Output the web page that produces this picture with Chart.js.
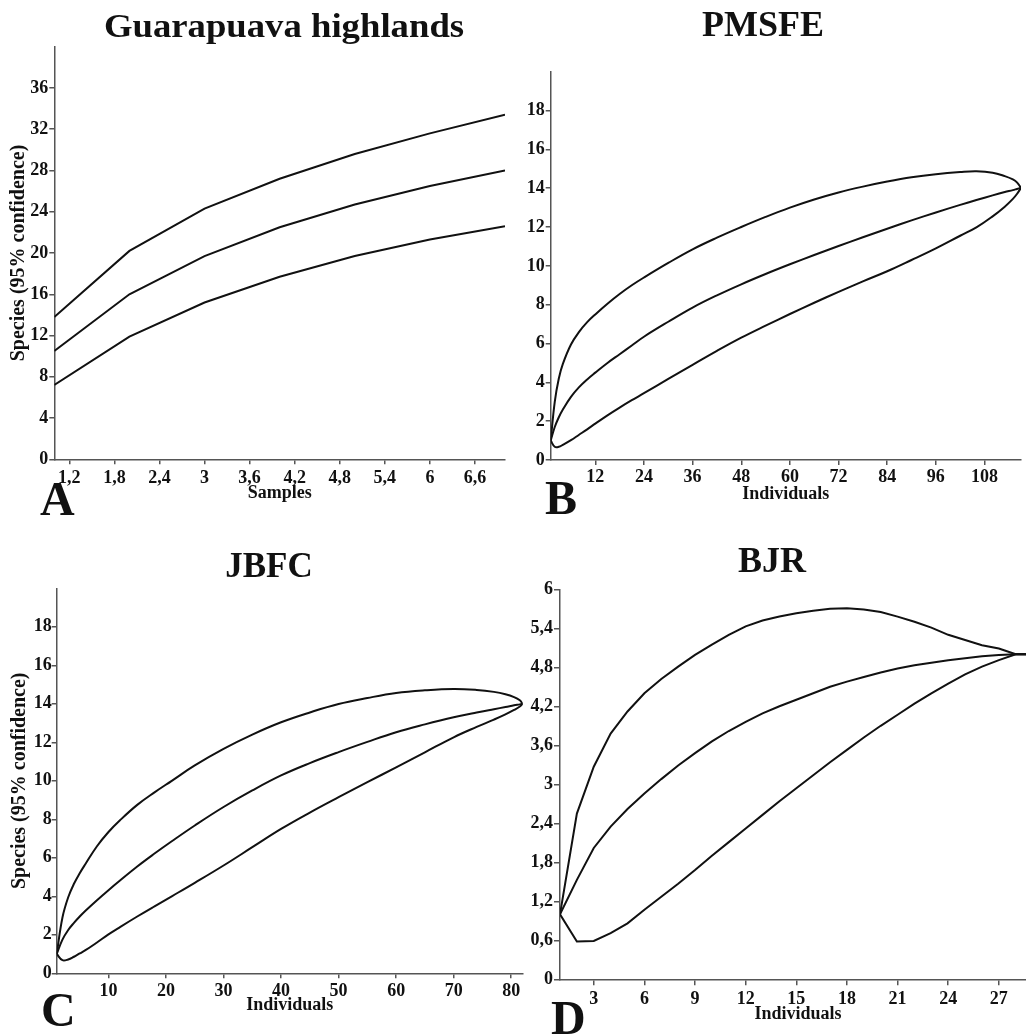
<!DOCTYPE html>
<html>
<head>
<meta charset="utf-8">
<script src="https://cdn.jsdelivr.net/npm/chart.js@4.4.1/dist/chart.umd.min.js"></script>
<style>
html, body { margin: 0; padding: 0; background: #fff; overflow: hidden; }
body { width: 1026px; height: 1034px; position: relative; }
canvas { position: absolute; }
.ttl, .lbl { position: absolute; font-family: 'Liberation Serif', 'Times New Roman', serif; font-weight: bold; color: #111; line-height: 1; white-space: nowrap; }
.ttl { font-size: 36px; transform: translateX(-50%); }
.lbl { font-size: 48px; }
</style>
</head>
<body>
<canvas id="chartA" width="513" height="517" style="left:0;top:0"></canvas>
<canvas id="chartB" width="513" height="517" style="left:513px;top:0"></canvas>
<canvas id="chartC" width="530" height="517" style="left:0;top:517px"></canvas>
<canvas id="chartD" width="519" height="517" style="left:524px;top:517px;background:#fff"></canvas>

<div class="ttl" style="left:284px;top:8.5px;font-size:34px;transform:translateX(-50%) scaleX(1.08)">Guarapuava highlands</div>
<div class="ttl" style="left:763px;top:5.9px">PMSFE</div>
<div class="ttl" style="left:269px;top:547.7px;font-size:35px">JBFC</div>
<div class="ttl" style="left:772px;top:541.9px">BJR</div>
<div class="lbl" style="left:40px;top:474.8px">A</div>
<div class="lbl" style="left:545px;top:473.8px">B</div>
<div class="lbl" style="left:41px;top:985.8px">C</div>
<div class="lbl" style="left:551px;top:993.8px">D</div>

<script>
// A - Guarapuava highlands (samples)
const samplesA = [1, 2, 3, 4, 5, 6, 7];
const upperA = [13.8, 20.2, 24.3, 27.2, 29.6, 31.6, 33.4];
const meanA  = [10.5, 16.0, 19.7, 22.5, 24.7, 26.5, 28.0];
const lowerA = [7.2, 11.9, 15.2, 17.7, 19.7, 21.3, 22.6];
const xTicksA = [1.2, 1.8, 2.4, 3, 3.6, 4.2, 4.8, 5.4, 6, 6.6];
const yTicksA = [0, 4, 8, 12, 16, 20, 24, 28, 32, 36];

// B - PMSFE (individuals)
const indB = [1, 2, 3, 4, 6, 8, 10, 12, 15, 18, 21, 24, 30, 36, 42, 48, 54, 60, 66, 72, 78, 84, 90, 96, 102, 106, 110, 113, 115, 116, 117];
const upperB = [1.0, 3.0, 4.2, 4.95, 5.95, 6.6, 7.1, 7.5, 8.05, 8.55, 9.0, 9.4, 10.15, 10.85, 11.45, 12.0, 12.52, 13.0, 13.42, 13.78, 14.08, 14.34, 14.56, 14.72, 14.83, 14.87, 14.8, 14.62, 14.45, 14.3, 14.02];
const meanB  = [1.0, 1.7, 2.2, 2.6, 3.25, 3.75, 4.15, 4.5, 5.0, 5.45, 5.9, 6.35, 7.12, 7.85, 8.48, 9.05, 9.58, 10.08, 10.56, 11.02, 11.47, 11.91, 12.34, 12.75, 13.14, 13.39, 13.63, 13.8, 13.9, 13.96, 14.02];
const lowerB = [1.0, 0.68, 0.68, 0.78, 1.02, 1.3, 1.58, 1.87, 2.3, 2.7, 3.08, 3.44, 4.18, 4.9, 5.62, 6.3, 6.92, 7.52, 8.1, 8.66, 9.2, 9.72, 10.3, 10.9, 11.55, 11.98, 12.55, 13.05, 13.45, 13.7, 14.02];
const xTicksB = [12, 24, 36, 48, 60, 72, 84, 96, 108];
const yTicksB = [0, 2, 4, 6, 8, 10, 12, 14, 16, 18];

// C - JBFC (individuals)
const indC = [1, 2, 3, 4, 5, 6, 8, 10, 12, 15, 18, 21, 25, 30, 35, 40, 45, 50, 55, 60, 65, 70, 74, 77, 79, 80.5, 81.5, 82];
const upperC = [1.0, 2.9, 3.95, 4.65, 5.2, 5.68, 6.6, 7.34, 7.95, 8.75, 9.4, 10.0, 10.8, 11.66, 12.4, 13.04, 13.55, 13.99, 14.3, 14.56, 14.7, 14.77, 14.72, 14.62, 14.5, 14.35, 14.18, 14.0];
const meanC  = [1.0, 1.75, 2.25, 2.62, 2.95, 3.25, 3.8, 4.32, 4.82, 5.55, 6.22, 6.86, 7.68, 8.64, 9.5, 10.28, 10.92, 11.49, 12.02, 12.52, 12.93, 13.3, 13.55, 13.72, 13.83, 13.92, 13.97, 14.0];
const lowerC = [1.0, 0.68, 0.72, 0.86, 1.03, 1.2, 1.6, 2.02, 2.4, 2.95, 3.48, 4.0, 4.7, 5.6, 6.55, 7.5, 8.35, 9.15, 9.93, 10.7, 11.48, 12.26, 12.8, 13.18, 13.45, 13.68, 13.86, 14.0];
const xTicksC = [10, 20, 30, 40, 50, 60, 70, 80];
const yTicksC = [0, 2, 4, 6, 8, 10, 12, 14, 16, 18];

// D - BJR (individuals)
const indD = [1, 2, 3, 4, 5, 6, 7, 8, 9, 10, 11, 12, 13, 14, 15, 16, 17, 18, 19, 20, 21, 22, 23, 24, 25, 26, 27, 28, 30];
const upperD = [1.0, 2.55, 3.27, 3.78, 4.12, 4.4, 4.62, 4.81, 4.99, 5.15, 5.3, 5.43, 5.52, 5.58, 5.63, 5.67, 5.7, 5.71, 5.69, 5.65, 5.58, 5.5, 5.41, 5.3, 5.22, 5.14, 5.09, 5.0, 5.0];
const meanD  = [1.0, 1.53, 2.02, 2.35, 2.62, 2.86, 3.08, 3.29, 3.48, 3.66, 3.82, 3.96, 4.09, 4.2, 4.3, 4.4, 4.5, 4.58, 4.65, 4.72, 4.78, 4.83, 4.87, 4.91, 4.94, 4.97, 4.99, 5.0, 5.0];
const lowerD = [1.0, 0.58, 0.59, 0.71, 0.86, 1.07, 1.27, 1.47, 1.68, 1.9, 2.11, 2.32, 2.53, 2.74, 2.94, 3.14, 3.34, 3.53, 3.72, 3.9, 4.07, 4.24, 4.4, 4.55, 4.69, 4.81, 4.91, 5.0, 5.0];
const xTicksD = [3, 6, 9, 12, 15, 18, 21, 24, 27];
const yTicksD = [0, 0.6, 1.2, 1.8, 2.4, 3, 3.6, 4.2, 4.8, 5.4, 6];

const serif = "'Liberation Serif', 'Times New Roman', serif";
const axisGray = '#555';
const comma = v => String(v).replace('.', ',');

function panel(id, o) {
  const pts = ys => o.x.map((x, i) => ({ x: x, y: ys[i] }));
  return new Chart(document.getElementById(id), {
    type: 'line',
    data: {
      datasets: o.series.map(ys => ({
        data: pts(ys),
        borderColor: '#111',
        borderWidth: 2,
        pointRadius: 0,
        fill: false,
        tension: o.smooth ? 0.4 : 0
      }))
    },
    options: {
      responsive: false,
      animation: false,
      events: [],
      layout: { padding: o.pad },
      plugins: { legend: { display: false }, tooltip: { enabled: false } },
      scales: {
        x: {
          type: 'linear', min: o.xMin, max: o.xMax,
          afterBuildTicks: s => { s.ticks = o.xTicks.map(v => ({ value: v })); },
          afterFit: s => { s.height = o.xH; },
          grid: { drawOnChartArea: false, tickLength: o.xTl, color: axisGray, lineWidth: 1.5 },
          border: { color: axisGray, width: 1.5 },
          ticks: { padding: o.xPad, autoSkip: false, maxRotation: 0, color: '#111',
                   font: { family: serif, size: 18, weight: 'bold' }, callback: v => comma(v) },
          title: { display: true, text: o.xTitle, color: '#111',
                   font: { family: serif, size: 18, weight: 'bold' },
                   padding: { top: 0, bottom: o.xTitlePad } }
        },
        y: {
          type: 'linear', min: 0, max: o.yMax,
          afterBuildTicks: s => { s.ticks = o.yTicks.map(v => ({ value: v })); },
          afterFit: s => { s.width = o.yW; },
          grid: { drawOnChartArea: false, tickLength: o.yTl, color: axisGray, lineWidth: 1.5 },
          border: { color: axisGray, width: 1.5 },
          ticks: { padding: o.yPad, autoSkip: false, color: '#111',
                   font: { family: serif, size: 18, weight: 'bold' }, callback: v => comma(v) },
          title: { display: !!o.yTitle, text: o.yTitle || '', color: '#111',
                   font: { family: serif, size: 20, weight: 'bold' },
                   padding: { top: o.yTitlePad || 0, bottom: 0 } }
        }
      }
    }
  });
}

panel('chartA', {
  x: samplesA, series: [upperA, meanA, lowerA], smooth: false,
  xMin: 1, xMax: 7, yMax: 40, xTicks: xTicksA, yTicks: yTicksA,
  pad: { left: 0, right: 8, top: 46.7, bottom: 0 }, yW: 54.3, xH: 57.7,
  xTl: 5, xPad: 3, yTl: 5, yPad: 1,
  xTitle: 'Samples', xTitlePad: 13.2,
  yTitle: 'Species (95% confidence)', yTitlePad: 7
});

panel('chartB', {
  x: indB, series: [upperB, meanB, lowerB], smooth: true,
  xMin: 1, xMax: 117, yMax: 20, xTicks: xTicksB, yTicks: yTicksB,
  pad: { left: 0, right: 5, top: 71.7, bottom: 0 }, yW: 37.7, xH: 57,
  xTl: 5, xPad: 2, yTl: 5, yPad: 1,
  xTitle: 'Individuals', xTitlePad: 12.2
});

panel('chartC', {
  x: indC, series: [upperC, meanC, lowerC], smooth: true,
  xMin: 1, xMax: 82, yMax: 20, xTicks: xTicksC, yTicks: yTicksC,
  pad: { left: 0, right: 7.3, top: 71.3, bottom: 0 }, yW: 56.7, xH: 60.7,
  xTl: 5, xPad: 2, yTl: 5, yPad: 0,
  xTitle: 'Individuals', xTitlePad: 17.6,
  yTitle: 'Species (95% confidence)', yTitlePad: 8
});

panel('chartD', {
  x: indD, series: [upperD, meanD, lowerD], smooth: false,
  xMin: 1, xMax: 29.2, yMax: 6, xTicks: xTicksD, yTicks: yTicksD,
  pad: { left: 0, right: 7, top: 72.3, bottom: 0 }, yW: 36, xH: 54.7,
  xTl: 6, xPad: 3, yTl: 6, yPad: 1,
  xTitle: 'Individuals', xTitlePad: 9.2
});
</script>
</body>
</html>
